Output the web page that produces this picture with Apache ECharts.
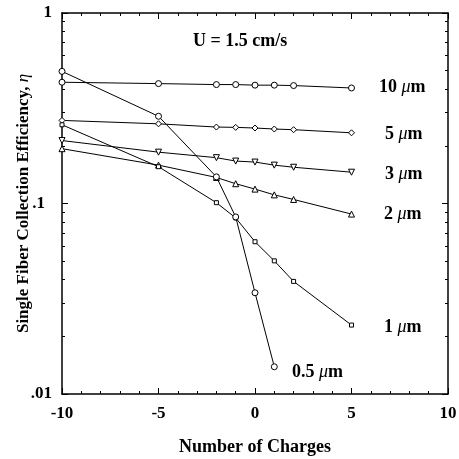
<!DOCTYPE html>
<html>
<head>
<meta charset="utf-8">
<script src="https://cdn.jsdelivr.net/npm/echarts@6/dist/echarts.min.js"></script>
<style>
  html, body { margin: 0; padding: 0; background: #fff; }
  #chart { width: 459px; height: 459px; }
</style>
</head>
<body>
<div id="chart"></div>
<script>
// number of charges on the fiber
var charges = [-10, -5, -2, -1, 0, 1, 2, 5];
var charges05 = [-10, -5, -2, -1, 0, 1];

// single fiber collection efficiency, per particle size
var eta10 = [0.433, 0.426, 0.421, 0.421, 0.418, 0.418, 0.416, 0.404];
var eta5 = [0.273, 0.262, 0.252, 0.251, 0.249, 0.246, 0.244, 0.235];
var eta3 = [0.214, 0.186, 0.174, 0.167, 0.165, 0.159, 0.155, 0.146];
var eta2 = [0.194, 0.159, 0.137, 0.127, 0.119, 0.111, 0.105, 0.088];
var eta1 = [0.259, 0.156, 0.101, 0.084, 0.063, 0.050, 0.039, 0.023];
var eta05 = [0.494, 0.287, 0.138, 0.085, 0.034, 0.0139];

var yTickLabels = { 0.01: '{a|.01}', 0.1: '{b|.1}', 1: '{a|1}' };

var FONT = '"Liberation Serif", "DejaVu Serif", serif';

function pairs(xs, ys) {
    return ys.map(function (v, i) { return [xs[i], v]; });
}

function line(name, xs, ys, symbol, rotate) {
    return {
        name: name,
        type: 'line',
        data: pairs(xs, ys),
        symbol: symbol,
        symbolSize: symbol === 'rect' ? 4 : 6,
        symbolRotate: rotate || 0,
        showAllSymbol: true,
        lineStyle: { color: '#000', width: 1 },
        itemStyle: { color: '#fff', borderColor: '#000', borderWidth: 1 },
        animation: false,
        z: 3
    };
}

var chart = echarts.init(document.getElementById('chart'));

function richFor(size) {
    return {
        b: { fontFamily: FONT, fontWeight: 'bold', fontSize: size, color: '#000' },
        i: { fontFamily: FONT, fontStyle: 'italic', fontSize: size, color: '#000' }
    };
}

function sizeLabel(left, top, size) {
    return {
        type: 'text', left: left, top: top,
        style: { text: '{b|' + size + ' }{i|μ}{b|m}', rich: richFor(18) }
    };
}

var tickFont = { fontFamily: FONT, fontWeight: 'bold', fontSize: 17, color: '#000' };

var option = {
    backgroundColor: '#fff',
    animation: false,
    grid: { left: 62, right: 11, top: 13, bottom: 65, show: false, outerBoundsMode: 'none' },
    xAxis: [{
        type: 'value',
        min: -10, max: 10, interval: 5,
        name: 'Number of Charges',
        nameLocation: 'middle',
        nameGap: 44,
        nameMoveOverlap: false,
        nameTextStyle: { fontFamily: FONT, fontWeight: 'bold', fontSize: 18, color: '#000' },
        axisLine: { onZero: false, lineStyle: { color: '#000', width: 1.5 } },
        axisTick: { inside: true, length: 6, lineStyle: { color: '#000' } },
        minorTick: { show: true, splitNumber: 5, length: 3, lineStyle: { color: '#000' } },
        axisLabel: Object.assign({ margin: 11 }, tickFont),
        splitLine: { show: false }
    }, {
        type: 'value',
        position: 'top',
        min: -10, max: 10, interval: 5,
        axisLine: { show: true, onZero: false, lineStyle: { color: '#000', width: 1.5 } },
        axisTick: { inside: true, length: 6, lineStyle: { color: '#000' } },
        minorTick: { show: true, splitNumber: 5, length: 3, lineStyle: { color: '#000' } },
        axisLabel: { show: false },
        splitLine: { show: false }
    }],
    yAxis: [{
        type: 'log',
        logBase: 10,
        min: 0.01, max: 1,
        name: '{b|Single Fiber Collection Efficiency, }{i|η}',
        nameLocation: 'middle',
        nameGap: 30,
        nameMoveOverlap: false,
        nameTextStyle: { rich: richFor(17) },
        axisLine: { onZero: false, lineStyle: { color: '#000', width: 1.5 } },
        axisTick: { inside: true, length: 6, lineStyle: { color: '#000' } },
        minorTick: { show: true, splitNumber: 9, length: 3, lineStyle: { color: '#000' } },
        axisLabel: {
            margin: 10,
            formatter: function (v) { return yTickLabels[v] !== undefined ? yTickLabels[v] : ''; },
            rich: {
                a: tickFont,
                b: Object.assign({ padding: [0, 7, 0, 0] }, tickFont)
            }
        },
        splitLine: { show: false }
    }, {
        type: 'log',
        logBase: 10,
        position: 'right',
        min: 0.01, max: 1,
        axisLine: { show: true, onZero: false, lineStyle: { color: '#000', width: 1.5 } },
        axisTick: { inside: true, length: 6, lineStyle: { color: '#000' } },
        minorTick: { show: true, splitNumber: 9, length: 3, lineStyle: { color: '#000' } },
        axisLabel: { show: false },
        splitLine: { show: false }
    }],
    graphic: [
        {
            type: 'text', left: 193, top: 32,
            style: { text: 'U = 1.5 cm/s', font: 'bold 18px ' + FONT, fill: '#000' }
        },
        sizeLabel(379, 78, '10'),
        sizeLabel(385, 125, '5'),
        sizeLabel(385, 165, '3'),
        sizeLabel(384, 205, '2'),
        sizeLabel(384, 318, '1'),
        sizeLabel(292, 363, '0.5')
    ],
    series: [
        line('10 μm', charges, eta10, 'circle'),
        line('5 μm', charges, eta5, 'diamond'),
        line('3 μm', charges, eta3, 'triangle', 180),
        line('2 μm', charges, eta2, 'triangle'),
        line('1 μm', charges, eta1, 'rect'),
        line('0.5 μm', charges05, eta05, 'circle')
    ]
};

chart.setOption(option);
</script>
</body>
</html>
